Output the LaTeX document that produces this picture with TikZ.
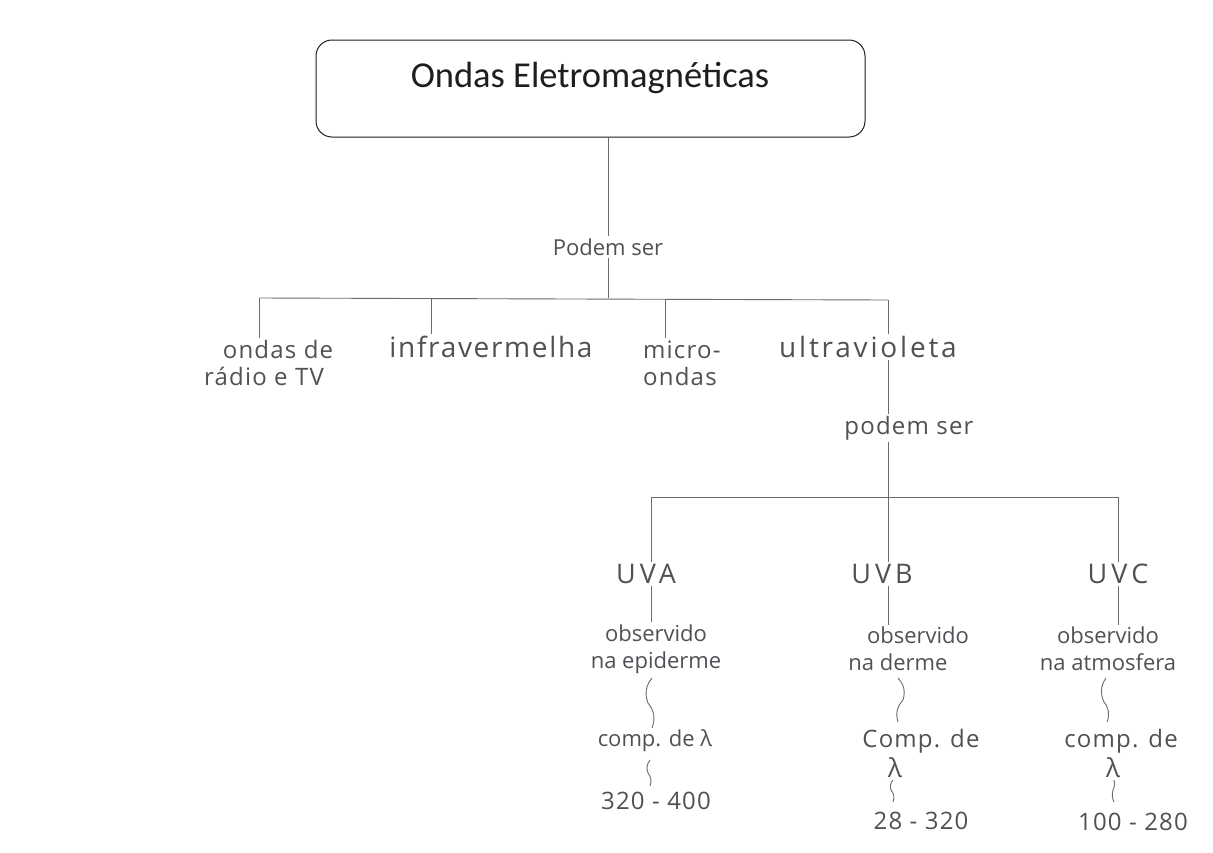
\documentclass[tikz,border=0pt]{standalone}
\usepackage{fontspec}
\setmainfont{Open Sans}
\newfontfamily\titlefont{Carlito}
\newfontfamily\wideface[LetterSpace=6]{Open Sans}
\newfontfamily\widerface[LetterSpace=10]{Open Sans}
\newfontfamily\midface[LetterSpace=5]{Open Sans}
\newfontfamily\capface[LetterSpace=15]{Open Sans}
\usetikzlibrary{calc}
\definecolor{pencil}{RGB}{80,80,86}
\definecolor{ink}{RGB}{30,30,30}
\begin{document}
\begin{tikzpicture}[x=1pt,y=-1pt,
  hand/.style={font=\fontsize{22}{27}\selectfont, text=pencil, inner sep=2pt, align=center},
  widehand/.style={hand, font=\wideface\fontsize{28}{30}\selectfont},
  widerhand/.style={hand, font=\widerface\fontsize{28}{30}\selectfont},
  midhand/.style={hand, font=\midface\fontsize{24}{27}\selectfont},
  label/.style={font=\capface\fontsize{27}{30}\selectfont, text=pencil, inner sep=2pt},
  link/.style={draw=pencil!85, line width=0.9pt},
  wiggle/.style={draw=pencil!85, line width=0.9pt},
  titlebox/.style={draw=ink, line width=1pt, rounded corners=16pt, minimum width=549pt, minimum height=97pt, inner sep=0pt}]
\useasboundingbox[fill=white] (0,0) rectangle (1213,852);

% main concept
\node[titlebox] (box) at (590.5,88.5) {};
\node[font=\titlefont\fontsize{36.5}{40}\selectfont, text=ink] (title) at (590,78) {Ondas Eletromagnéticas};

% first level
\node[hand] (ps1) at (608,247) {Podem ser};
\node[midhand] (radio) at (264,363) {\hspace*{28pt}ondas de\\rádio e TV};
\node[widehand] (infra) at (491,347) {infravermelha};
\node[midhand, anchor=west, align=left] (micro) at (641,363) {micro-\\ondas};
\node[widerhand] (uv) at (868,347) {ultravioleta};

\coordinate (bus1) at (608,298);
\coordinate (t1) at (259,298);
\coordinate (t2) at (431,298);
\coordinate (t3) at (665,299);
\coordinate (t4) at (888,300);

\draw[link] (box.south -| ps1) -- (ps1.north);
\draw[link] (ps1.south) -- (bus1);
\draw[link] (t1) -- (t4);
\draw[link] (t1) -- (t1 |- radio.north);
\draw[link] (t2) -- (t2 |- infra.north);
\draw[link] (t3) -- (t3 |- micro.north);
\draw[link] (t4) -- (t4 |- uv.north);

% ultraviolet branch
\node[midhand] (ps2) at (909,428) {podem ser};
\coordinate (uvdrop) at (888,497);
\draw[link] (uv.south -| uvdrop) -- (ps2.north -| uvdrop);
\draw[link] (ps2.south -| uvdrop) -- (uvdrop);

\node[label] (uva) at (646,574) {UVA};
\node[label] (uvb) at (882,574) {UVB};
\node[label] (uvc) at (1118,574) {UVC};

\coordinate (u1) at (651,497);
\coordinate (u3) at (1118,497);
\draw[link] (u1) -- (u3);
\draw[link] (u1) -- (u1 |- uva.north);
\draw[link] (uvdrop) -- (uvdrop |- uvb.north);
\draw[link] (u3) -- (u3 |- uvc.north);

% observations
\node[hand] (obsA) at (656,649) {observido\\na epiderme};
\node[hand] (obsB) at (898,649) {\hspace*{40pt}observido\\na derme};
\node[hand] (obsC) at (1108,649) {observido\\na atmosfera};

\draw[link] (uva.south -| u1) -- (u1 |- obsA.north);
\draw[link] (uvb.south -| uvdrop) -- (uvdrop |- obsB.north);
\draw[link] (uvc.south -| u3) -- (u3 |- obsC.north);

% wavelength
\node[hand] (compA) at (655,741) {comp. de λ};
\node[midhand] (compB) at (921,741) {Comp. de};
\node[hand, font=\fontsize{26}{30}\selectfont] (lamB) at (895,768) {λ};
\node[midhand] (compC) at (1121,741) {comp. de};
\node[hand, font=\fontsize{26}{30}\selectfont] (lamC) at (1113,768) {λ};

\node[midhand] (numA) at (656,801) {320 - 400};
\node[midhand] (numB) at (921,821) {28 - 320};
\node[midhand] (numC) at (1133,822) {100 - 280};

% brace-like squiggles
\coordinate (kA) at (648,703);
\coordinate (kB) at (903,700);
\coordinate (kC) at (1104,702);
\coordinate (kA2) at (648,773);
\coordinate (kB2) at (891,790);
\coordinate (kC2) at (1113,790);

\draw[wiggle] (652,678) to[bend right=30] (kA) to[bend left=30] (652,728);
\draw[wiggle] (898,678) to[bend left=30] (kB) to[bend right=30] (898,722);
\draw[wiggle] (1106,678) to[bend right=30] (kC) to[bend left=30] (1107,722);
\draw[wiggle] (650,760) to[bend right=30] (kA2) to[bend left=30] (650,786);
\draw[wiggle] (893,780) to[bend right=30] (kB2) to[bend left=30] (893,802);
\draw[wiggle] (1114,780) to[bend left=20] (kC2) to[bend right=20] (1114,802);
\end{tikzpicture}
\end{document}
